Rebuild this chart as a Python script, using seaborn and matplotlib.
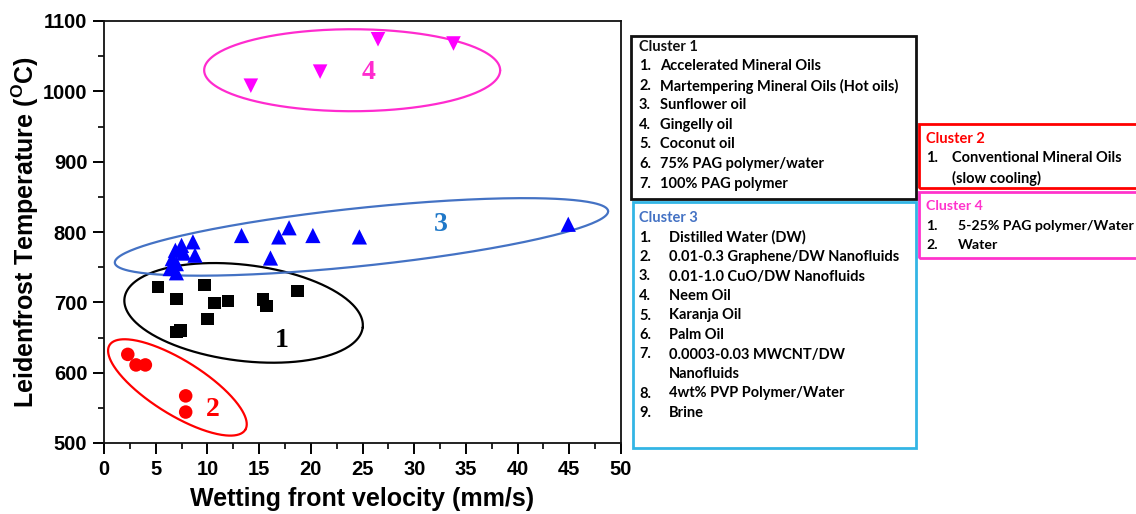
import numpy as np
import pandas as pd
import matplotlib
matplotlib.use('Agg')
import matplotlib.pyplot as plt
from matplotlib.patches import Rectangle
from matplotlib.ticker import MultipleLocator
import seaborn as sns

# Data
c1_x = [5.2, 7.0, 9.7, 10.7, 12.0, 10.0, 7.0, 7.4, 15.4, 15.7, 18.7]
c1_y = [722, 705, 725, 699, 702, 676, 658, 660, 704, 695, 716]

c2_x = [2.3, 3.1, 4.0, 7.9, 7.9]
c2_y = [626, 611, 611, 567, 544]

c3_x = [6.9, 7.5, 8.6, 8.8, 6.6, 6.4, 7.0, 7.7, 7.0,
        13.3, 16.9, 17.9, 20.2, 24.7, 16.1, 44.9]
c3_y = [774, 781, 786, 767, 762, 748, 755, 770, 742,
        795, 793, 806, 795, 793, 763, 811]

c4_x = [14.2, 20.9, 26.5, 33.8]
c4_y = [1008, 1028, 1074, 1068]

cluster1_items = ['Accelerated Mineral Oils',
                  'Martempering Mineral Oils (Hot oils)',
                  'Sunflower oil', 'Gingelly oil', 'Coconut oil',
                  '75% PAG polymer/water', '100% PAG polymer']
cluster2_items = ['Conventional Mineral Oils\n(slow cooling)']
cluster3_items = ['Distilled Water (DW)', '0.01-0.3 Graphene/DW Nanofluids',
                  '0.01-1.0 CuO/DW Nanofluids', 'Neem Oil', 'Karanja Oil',
                  'Palm Oil', '0.0003-0.03 MWCNT/DW\nNanofluids',
                  '4wt% PVP Polymer/Water', 'Brine']
cluster4_items = ['5-25% PAG polymer/Water', 'Water']

sns.set_style('ticks')
plt.rcParams['font.family'] = ['Liberation Sans', 'DejaVu Sans']
plt.rcParams['mathtext.fontset'] = 'custom'
plt.rcParams['mathtext.rm'] = 'Liberation Sans:bold'
plt.rcParams['mathtext.bf'] = 'Liberation Sans:bold'
plt.rcParams['text.color'] = 'black'
plt.rcParams['axes.labelcolor'] = 'black'
plt.rcParams['xtick.color'] = 'black'
plt.rcParams['ytick.color'] = 'black'

W, H = 1136, 514
fig = plt.figure(figsize=(W / 100, H / 100), dpi=100)
ax = fig.add_axes([104 / W, 71 / H, 517 / W, 422 / H])

df = pd.concat([
    pd.DataFrame({'x': c1_x, 'y': c1_y, 'cluster': '1'}),
    pd.DataFrame({'x': c2_x, 'y': c2_y, 'cluster': '2'}),
    pd.DataFrame({'x': c3_x, 'y': c3_y, 'cluster': '3'}),
    pd.DataFrame({'x': c4_x, 'y': c4_y, 'cluster': '4'}),
])

styles = {'1': ('s', 'black', 80), '2': ('o', 'red', 95),
          '3': ('^', 'blue', 120), '4': ('v', 'magenta', 110)}
for cl, (mk, col, size) in styles.items():
    sub = df[df['cluster'] == cl]
    sns.scatterplot(data=sub, x='x', y='y', marker=mk, color=col, s=size,
                    edgecolor='none', ax=ax, legend=False, zorder=3)

ax.set_xlim(0, 50)
ax.set_ylim(500, 1100)
ax.xaxis.set_major_locator(MultipleLocator(5))
ax.xaxis.set_minor_locator(MultipleLocator(2.5))
ax.yaxis.set_major_locator(MultipleLocator(100))
ax.yaxis.set_minor_locator(MultipleLocator(50))
ax.tick_params(which='major', direction='out', length=8, width=1.4,
               labelsize=14.5, pad=4, top=False, right=False)
ax.tick_params(which='minor', direction='out', length=4.5, width=1.2,
               top=False, right=False)
for lab in ax.get_xticklabels() + ax.get_yticklabels():
    lab.set_fontweight('bold')
for sp in ax.spines.values():
    sp.set_linewidth(1.3)
    sp.set_color('#111111')

ax.set_xlabel('Wetting front velocity (mm/s)', fontsize=18,
              fontweight='bold', labelpad=6)
ax.set_ylabel(r'Leidenfrost Temperature ($^{\mathbf{O}}$C)', fontsize=18,
              fontweight='bold', labelpad=1)


# Cluster ellipses, drawn in screen space so the tilt matches the picture
def ellipse(cx, cy, a_px, b_px, angle, color, lw=1.6):
    c = ax.transData.transform((cx, cy))
    t = np.linspace(0, 2 * np.pi, 300)
    th = np.deg2rad(angle)
    ex = a_px * np.cos(t)
    ey = b_px * np.sin(t)
    px = c[0] + ex * np.cos(th) - ey * np.sin(th)
    py = c[1] + ex * np.sin(th) + ey * np.cos(th)
    pts = ax.transData.inverted().transform(np.column_stack([px, py]))
    ax.plot(pts[:, 0], pts[:, 1], color=color, lw=lw, zorder=2)


ellipse(13.5, 685, 120, 48, -7, 'black')
ellipse(7.1, 579, 80, 27, -32, 'red')
ellipse(24.9, 793, 248, 29, 6, '#4472c4')
ellipse(24.0, 1030, 148, 41, 0, '#ff2bcf')

num_font = dict(family=['Liberation Serif', 'DejaVu Serif'],
                fontweight='bold', fontsize=20, ha='center', va='center')
ax.text(17.2, 646, '1', color='black', **num_font)
ax.text(10.5, 547, '2', color='red', **num_font)
ax.text(32.6, 810, '3', color='#1f78c8', **num_font)
ax.text(25.6, 1027, '4', color='#ff2bcf', **num_font)


# Legend boxes on the right
box_font = ['Lato', 'DejaVu Sans']


def box(x0, y0, x1, y1, edge, title, title_col, items, num_x, txt_x, y_first,
        step=19.5, fs=10.5):
    fig.patches.append(Rectangle((x0 / W, 1 - y1 / H), (x1 - x0) / W,
                                 (y1 - y0) / H, transform=fig.transFigure,
                                 fill=False, edgecolor=edge, lw=2))
    fig.text(num_x / W, 1 - y_first / H, title, color=title_col,
             family=box_font, fontweight='bold', fontsize=fs, va='center')
    y = y_first + step
    for i, item in enumerate(items):
        fig.text(num_x / W, 1 - y / H, f'{i + 1}.', family=box_font,
                 fontweight='bold', fontsize=fs, va='center')
        for line in item.split('\n'):
            fig.text(txt_x / W, 1 - y / H, line, family=box_font,
                     fontweight='bold', fontsize=fs, va='center')
            y += step


box(631, 36, 916, 199, '#111111', 'Cluster 1', '#111111', cluster1_items,
    639, 660, 47)
box(633, 202, 916, 448, '#33b5e5', 'Cluster 3', '#4472c4', cluster3_items,
    639, 669, 218)
box(919, 124, 1145, 188, 'red', 'Cluster 2', 'red', cluster2_items,
    926, 952, 139)
box(919, 192, 1145, 258, '#ff33cc', 'Cluster 4', '#ff33cc', cluster4_items,
    926, 958, 206, fs=10.2)

fig.savefig('out.png', dpi=100)
plt.close(fig)
